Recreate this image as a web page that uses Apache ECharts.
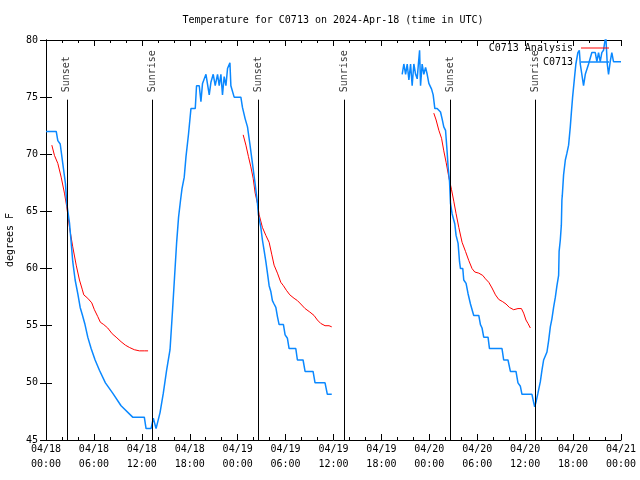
<!DOCTYPE html>
<html><head><meta charset="utf-8">
<script src="https://cdn.jsdelivr.net/npm/echarts@6/dist/echarts.min.js"></script>
<style>html,body{margin:0;padding:0;background:#fff}#c{width:640px;height:480px}</style>
</head><body><div id="c"></div>
<script>
// hours since 2024-04-18 00:00 UTC
var xTickLabels = ['04/18\n00:00','04/18\n06:00','04/18\n12:00','04/18\n18:00','04/19\n00:00','04/19\n06:00','04/19\n12:00','04/19\n18:00','04/20\n00:00','04/20\n06:00','04/20\n12:00','04/20\n18:00','04/21\n00:00'];

var obsHours = [0,1.28,1.48,1.78,2.1,2.44,2.6,2.94,3.15,3.35,3.65,3.98,4.28,4.53,4.85,5.23,5.65,6.15,6.69,7.44,8.35,9.4,10.85,12.31,12.53,13.15,13.44,13.78,13.98,14.28,14.69,15.1,15.53,15.85,16.1,16.35,16.6,16.85,17.03,17.31,17.53,17.85,18.15,18.69,18.85,19.19,19.4,19.6,20.03,20.23,20.44,20.65,20.94,21.19,21.48,21.69,21.9,22.1,22.31,22.53,22.73,23.03,23.15,23.56,24.4,24.6,24.94,25.23,25.53,25.85,26.19,26.48,26.6,26.9,27.1,27.31,27.53,27.73,27.94,28.15,28.35,28.56,28.78,28.98,29.19,29.73,29.94,30.23,30.44,31.28,31.48,32.19,32.44,33.44,33.69,34.94,35.23,35.78,
  40,
  44.6,44.81,45.03,45.23,45.44,45.65,45.85,46.06,46.28,46.48,46.63,46.78,46.9,47.1,47.31,47.53,47.73,47.94,48.28,48.48,48.69,48.98,49.4,49.6,49.81,50.03,50.23,50.35,50.53,50.65,50.85,51.19,51.35,51.6,51.78,51.9,52.19,52.31,52.6,52.85,53.15,53.35,53.56,54.19,54.4,54.6,54.81,55.35,55.53,57.1,57.31,57.85,58.15,58.85,59.1,59.4,59.6,60.85,61.06,61.19,61.35,61.6,61.9,62.1,62.31,62.44,62.73,62.94,63.15,63.35,63.56,63.78,63.98,64.19,64.25,64.4,64.53,64.6,64.65,64.81,65.03,65.23,65.44,65.65,65.78,65.94,66.19,66.35,66.6,66.78,66.9,67.13,67.31,67.53,67.73,67.94,68.35,68.78,68.98,69.19,69.4,69.6,69.81,69.94,70.1,70.28,70.44,70.65,70.85,71.06,72];
var obsTemps = [72,72,71.2,70.9,69.2,67.4,65.7,64,62.3,60.6,59,57.8,56.6,56,55.2,54,53,52,51.1,50,49.1,48,47,47,46,46,46.9,46,46,47.4,49.1,51.1,52.9,56.4,59.3,62.2,64.5,66,67,68,69.8,71.8,74,74,76,76,74.6,76.2,77,77,75.2,76.3,77,76,77,76,77,75.2,76.8,76,77.5,78,76,75,75,74.1,73.1,72.4,70.9,69.2,67.4,65.7,64.7,63.6,62.5,61.6,60.6,59.6,58.5,58,57.2,56.9,56.6,55.8,55.1,55.1,54.2,53.9,53,53,52,52,51,51,50,50,49,49,
  null,
  77,77.9,77,77.9,76.5,77.9,76,77.9,77,76.6,77.9,79.1,76,77.9,77,77.6,77,76.2,75.7,75.2,74,74,73.7,73.1,72.4,72.1,70.2,68.9,67.6,65.7,64.8,63.9,62.9,62.2,60.6,60,60,59,58.7,57.8,56.9,56.9,55.9,55.9,55.1,54.8,54,54,53,53,52,52,51,51,50,49.7,49,49,48.3,47.9,48.3,49.1,50.1,51.1,52,52,52.7,53.7,54.9,55.6,56.6,57.5,58.5,59.4,61.5,62.5,63.8,66,66.4,68.2,69.5,70.1,70.8,72.4,73.6,75,76.8,77.9,78.9,79.1,77.9,77.9,76,77,77,77.9,78.9,78.9,78.1,78.9,78.1,78.9,79.1,79.7,80.3,77.9,77,78.1,78.9,78.1,78.1];

var anaHours = [0.73,1.06,1.48,1.9,2.31,2.6,2.94,3.35,3.78,4.19,4.53,4.73,5.23,5.73,6.06,6.48,6.81,7.23,7.73,8.28,8.78,9.4,9.94,10.44,11.06,11.69,12.31,12.78,
  18,
  24.69,25.03,25.35,25.65,25.94,26.19,26.48,26.69,27.1,27.53,27.94,28.28,28.56,28.98,29.4,29.73,30.1,30.53,31.06,31.48,31.9,32.44,33.03,33.56,33.98,34.4,34.94,35.44,35.78,
  42,
  48.56,48.85,49.19,49.53,49.81,50.1,50.44,50.78,51.06,51.35,51.69,52.1,52.53,52.94,53.35,53.69,54.19,54.69,55.03,55.44,55.85,56.28,56.69,57.19,57.6,58.03,58.56,59.1,59.53,59.81,60.1,60.35,60.65];
var anaTemps = [70.8,69.9,69.2,68,66.6,65.4,63.6,61.9,60.3,59,58.2,57.7,57.4,57,56.4,55.8,55.3,55.1,54.8,54.3,54,53.6,53.3,53.1,52.9,52.8,52.8,52.8,
  null,
  71.7,70.8,69.8,68.9,67.9,66.6,65.7,64.7,63.6,62.9,62.3,61.2,60.3,59.6,58.8,58.5,58.1,57.7,57.4,57.2,56.9,56.5,56.2,55.9,55.5,55.2,55,55,54.9,
  null,
  73.6,73,72.1,71.4,70.3,69.3,68,66.9,65.9,64.8,63.6,62.3,61.5,60.7,60,59.7,59.6,59.4,59.1,58.8,58.3,57.7,57.3,57.1,56.9,56.6,56.4,56.5,56.5,56.1,55.5,55.2,54.8];

var eventNames = ['Sunset','Sunrise','Sunset','Sunrise','Sunset','Sunrise'];
var eventHours = [2.6,13.35,26.6,37.35,50.6,61.25];

function zip(a,b){var r=[];for(var i=0;i<a.length;i++)r.push([a[i],b[i]]);return r;}

var FONT = 'DejaVu Sans Mono';
var lineTop = 74.78, labelBase = 75.42;

var markData = eventHours.map(function(h){return [{coord:[h,45]},{coord:[h,lineTop]}];});
var evLabels = eventHours.map(function(h,i){return {value:[h,labelBase], name:eventNames[i]};});

var chart = echarts.init(document.getElementById('c'), null, {renderer:'canvas'});
var axisCommon = {
  type:'value', min:0, max:72, interval:6,
  axisLine:{show:true,onZero:false,lineStyle:{color:'#000',width:1}},
  axisTick:{show:true,inside:true,length:6,lineStyle:{color:'#000'}},
  minorTick:{show:true,splitNumber:3,length:3,lineStyle:{color:'#000'}},
  splitLine:{show:false}
};
chart.setOption({
  animation:false,
  backgroundColor:'#fff',
  textStyle:{fontFamily:FONT,color:'#000'},
  title:{text:'Temperature for C0713 on 2024-Apr-18 (time in UTC)', left:328, top:10, textAlign:'center',
    textStyle:{fontFamily:FONT,fontSize:10,fontWeight:'normal',color:'#000'}},
  legend:[
    {data:[{name:'C0713 Analysis',icon:'rect'}], right:26, top:38, orient:'vertical', align:'right', itemWidth:28, itemHeight:1, itemGap:2,
     textStyle:{fontFamily:FONT,fontSize:10,color:'#000',padding:[0,3,0,0]}},
    {data:[{name:'C0713',icon:'rect'}], right:26, top:52, orient:'vertical', align:'right', itemWidth:28, itemHeight:1.5, itemGap:2,
     textStyle:{fontFamily:FONT,fontSize:10,color:'#000',padding:[0,3,0,0]}}
  ],
  grid:{left:46, right:19, top:40, bottom:40, containLabel:false, outerBoundsMode:'none'},
  xAxis:[
    Object.assign({}, axisCommon, {position:'bottom',
      axisLabel:{show:true,color:'#000',fontFamily:FONT,fontSize:10,lineHeight:15,margin:2,
        formatter:function(v){return xTickLabels[Math.round(v/6)];}}}),
    Object.assign({}, axisCommon, {position:'top', axisLabel:{show:false}})
  ],
  yAxis:[
    {type:'value', min:45, max:80, interval:5, position:'left',
     name:'degrees F', nameLocation:'middle', nameGap:31, nameRotate:90,
     nameTextStyle:{fontFamily:FONT,fontSize:10,color:'#000'},
     axisLine:{show:true,lineStyle:{color:'#000'}},
     axisTick:{show:true,inside:true,length:6,lineStyle:{color:'#000'}},
     axisLabel:{color:'#000',fontFamily:FONT,fontSize:10,margin:8},
     splitLine:{show:false}},
    {type:'value', min:45, max:80, interval:5, position:'right',
     axisLine:{show:true,lineStyle:{color:'#000'}},
     axisTick:{show:true,inside:true,length:6,lineStyle:{color:'#000'}},
     axisLabel:{show:false}, splitLine:{show:false}}
  ],
  series:[
    {name:'events', type:'scatter', data:evLabels, symbolSize:0, silent:true,
     label:{show:true, position:'inside', rotate:90, align:'left', verticalAlign:'middle',
       formatter:function(p){return p.name;}, fontFamily:FONT, fontSize:10, color:'#000'},
     markLine:{silent:true, symbol:'none', label:{show:false},
       lineStyle:{color:'#000',width:1,type:'solid'}, data:markData}},
    {name:'C0713 Analysis', type:'line', data:zip(anaHours,anaTemps), symbol:'none', showSymbol:false,
     connectNulls:false, lineStyle:{color:'#ff0000',width:1}, itemStyle:{color:'#ff0000'}},
    {name:'C0713', type:'line', data:zip(obsHours,obsTemps), symbol:'none', showSymbol:false,
     connectNulls:false, lineStyle:{color:'#0a88ff',width:1.5}, itemStyle:{color:'#0a88ff'}}
  ]
});
</script></body></html>
